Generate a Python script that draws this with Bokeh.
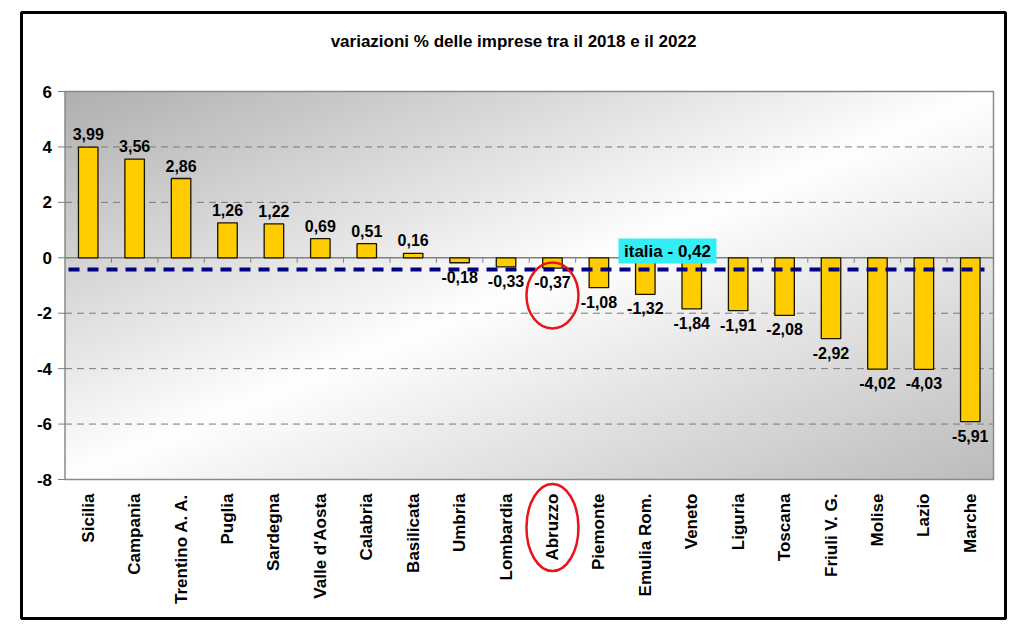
import math
import numpy as np
from bokeh.plotting import figure
from bokeh.models import Range1d
from bokeh.core.properties import value
from bokeh.embed import file_html
from bokeh.resources import INLINE

# ---------------- data ----------------
title_text = "variazioni % delle imprese tra il 2018 e il 2022"
regions = ["Sicilia", "Campania", "Trentino A. A.", "Puglia", "Sardegna",
           "Valle d'Aosta", "Calabria", "Basilicata", "Umbria", "Lombardia",
           "Abruzzo", "Piemonte", "Emulia Rom.", "Veneto", "Liguria",
           "Toscana", "Friuli V. G.", "Molise", "Lazio", "Marche"]
variazioni = [3.99, 3.56, 2.86, 1.26, 1.22, 0.69, 0.51, 0.16, -0.18, -0.33,
              -0.37, -1.08, -1.32, -1.84, -1.91, -2.08, -2.92, -4.02, -4.03, -5.91]
italia = -0.42
y_ticks = [6, 4, 2, 0, -2, -4, -6, -8]
highlight = "Abruzzo"

# ---------------- layout (pixels in the screenshot) ----------------
W, H = 1008, 620          # canvas size
OFF = 0                   # canvas origin in the screenshot
PA_L, PA_R, PA_T, PA_B = 64.5, 993.0, 91.0, 479.0   # plot-area box
FONT = value("Liberation Sans")

n = len(regions)
y_min, y_max = min(y_ticks), max(y_ticks)
sx = (PA_R - PA_L) / n
sy = (PA_B - PA_T) / (y_max - y_min)


def px_x(page_x):
    return (page_x - PA_L) / sx


def px_y(page_y):
    return y_max - (page_y - PA_T) / sy


x_range = Range1d(px_x(OFF), px_x(OFF + W))
y_range = Range1d(px_y(OFF + H), px_y(OFF))

p = figure(width=W, height=H, x_range=x_range, y_range=y_range,
           x_axis_type=None, y_axis_type=None, toolbar_location=None,
           output_backend="svg", min_border=0,
           background_fill_color="white", border_fill_color="white",
           outline_line_color=None)
p.grid.visible = False

# ---------------- gradient background of plot area ----------------
ny, nx = 160, 240
u = np.linspace(0, 1, nx)[None, :]
v = np.linspace(0, 1, ny)[:, None]          # 0 bottom, 1 top
t = (u + (1 - v)) / 2.0                     # 0 top-left, 1 bottom-right
dark1, dark2 = 176.0, 188.0
g = np.where(t < 0.5,
             dark1 + (255 - dark1) * (t / 0.5),
             255 - (255 - dark2) * ((t - 0.5) / 0.5))
img = np.empty((ny, nx), dtype=np.uint32)
view = img.view(dtype=np.uint8).reshape((ny, nx, 4))
gv = np.clip(g, 0, 255).astype(np.uint8)
view[:, :, 0] = gv
view[:, :, 1] = gv
view[:, :, 2] = gv
view[:, :, 3] = 255
p.image_rgba(image=[img], x=0, y=y_min, dw=n, dh=y_max - y_min)

# ---------------- grid lines ----------------
grid_vals = [tk for tk in y_ticks if tk not in (0, y_min, y_max)]
p.segment(x0=[0] * len(grid_vals), y0=grid_vals, x1=[n] * len(grid_vals), y1=grid_vals,
          line_color="#7a7a7a", line_width=1, line_dash="7 5")

# plot-area border
p.quad(left=[0], right=[n], bottom=[y_min], top=[y_max],
       fill_color=None, line_color="#8a8a8a", line_width=1.5)

# category axis at zero with tick marks
p.segment(x0=[0], y0=[0], x1=[n], y1=[0], line_color="#808080", line_width=1.5)
bounds = list(range(1, n + 1))
p.segment(x0=bounds, y0=[0] * len(bounds), x1=bounds, y1=[-5 / sy] * len(bounds),
          line_color="#808080", line_width=1)

# y ticks and labels
p.segment(x0=[-7 / sx] * len(y_ticks), y0=y_ticks, x1=[0] * len(y_ticks), y1=y_ticks,
          line_color="#808080", line_width=1)
p.text(x=[0] * len(y_ticks), y=y_ticks, text=[str(tk) for tk in y_ticks],
       x_offset=-13, text_align="right", text_baseline="middle",
       text_font=FONT, text_font_style="bold", text_font_size="17px", text_color="black")

# ---------------- bars ----------------
centers = [i + 0.5 for i in range(n)]
p.vbar(x=centers, top=variazioni, bottom=0, width=0.42,
       fill_color="#FFCC00", line_color="#1a1400", line_width=1.3)

# value labels
fmt = lambda val: f"{val:.2f}".replace(".", ",")
pos = [(c, v_) for c, v_ in zip(centers, variazioni) if v_ >= 0]
neg = [(c, v_) for c, v_ in zip(centers, variazioni) if v_ < 0]
p.text(x=[a for a, _ in pos], y=[b for _, b in pos], text=[fmt(b) for _, b in pos],
       y_offset=-7, text_align="center", text_baseline="bottom",
       text_font=FONT, text_font_style="bold", text_font_size="16px", text_color="black")
p.text(x=[a for a, _ in neg], y=[b for _, b in neg], text=[fmt(b) for _, b in neg],
       y_offset=8, text_align="center", text_baseline="top",
       text_font=FONT, text_font_style="bold", text_font_size="16px", text_color="black")

# ---------------- italia average line and label ----------------
p.segment(x0=[px_x(68)], y0=[italia], x1=[px_x(984)], y1=[italia],
          line_color="#000080", line_width=4, line_dash="11 8")
lab_x, lab_y = px_x(667), px_y(250.5)
p.rect(x=[lab_x], y=[lab_y], width=98, height=25, width_units="screen", height_units="screen",
       fill_color="#33EEF6", line_color=None)
p.text(x=[lab_x], y=[lab_y], text=[f"italia - {fmt(abs(italia))}"],
       text_align="center", text_baseline="middle",
       text_font=FONT, text_font_style="bold", text_font_size="17px", text_color="black")

# ---------------- category labels ----------------
p.text(x=centers, y=[y_min] * n, text=regions, angle=math.pi / 2,
       y_offset=14, text_align="right", text_baseline="middle",
       text_font=FONT, text_font_style="bold", text_font_size="17px", text_color="black")

# ---------------- highlight ellipses ----------------
hx = regions.index(highlight) + 0.5
p.ellipse(x=[hx, hx], y=[px_y(295), px_y(527)], width=[52, 52], height=[66, 87],
          width_units="screen", height_units="screen",
          fill_color=None, line_color="#E8141B", line_width=2.5)

# ---------------- title ----------------
p.text(x=[px_x(513)], y=[px_y(41)], text=[title_text],
       text_align="center", text_baseline="middle",
       text_font=FONT, text_font_style="bold", text_font_size="17px", text_color="black")

# ---------------- outer frame ----------------
p.quad(left=[px_x(21)], right=[px_x(1005)], top=[px_y(12)], bottom=[px_y(618)],
       fill_color=None, line_color="black", line_width=3)

open("out.html", "w").write(file_html(p, INLINE))
